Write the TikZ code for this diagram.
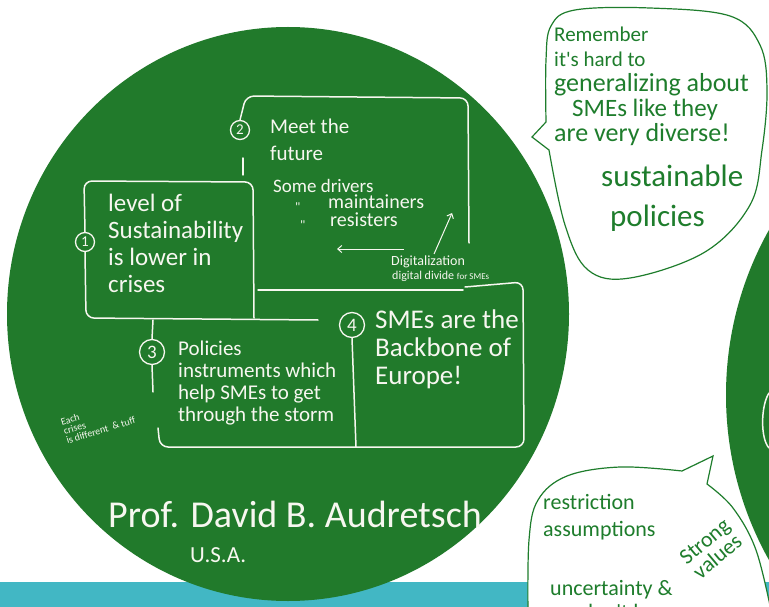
\documentclass[tikz,border=0pt]{standalone}
\usepackage{fontspec}
\newfontfamily\hand{Carlito}
\usetikzlibrary{arrows.meta}
\definecolor{leaf}{HTML}{217A2B}
\definecolor{ink}{HTML}{1E7D2C}
\definecolor{chalk}{HTML}{F7F7F0}
\definecolor{lagoon}{HTML}{42B7C4}
\newcommand{\handsize}[2]{\hand\fontsize{#1}{#2}\selectfont}
\tikzset{
  boxline/.style={draw=chalk,line width=1.5pt,rounded corners=8pt,line cap=round},
  numc/.style={circle,draw=chalk,line width=1.3pt,minimum size=19pt,inner sep=0pt,
    text=chalk,font=\handsize{15}{15}},
  bignumc/.style={numc,minimum size=25pt,font=\handsize{19}{19}},
  wtext/.style={text=chalk,inner sep=0pt,anchor=north west,align=left},
  gtext/.style={text=ink,inner sep=0pt,anchor=north west,align=left},
  bubble/.style={draw=ink,fill=white,line width=1.2pt},
  warrow/.style={-{Straight Barb[length=4pt,width=7pt]},draw=chalk,line width=1pt},
}
\begin{document}
\begin{tikzpicture}[x=1pt,y=-1pt]
  \useasboundingbox (0,0) rectangle (769,607);
  \clip (0,0) rectangle (769,607);
  \fill[white] (0,0) rectangle (769,607);
  \fill[lagoon] (0,582) rectangle (769,607);
  % the neighbouring circle on the right
  \fill[leaf] (1064,395) circle[radius=338pt];
  \draw[boxline] (769,393) .. controls (761,405) and (760,438) .. (769,448);
  % main circle
  \fill[leaf] (288,314) ellipse[x radius=281pt,y radius=287pt];

  \node[numc] (n1) at (85,242) {1}; \node[numc] (n2) at (240,130) {2};
  \node[bignumc] (n3) at (152,352) {3}; \node[bignumc] (n4) at (352,325) {4};
  \draw[boxline] (n1.north) -- (84,181) -- (253,182) -- (254,318);
  \draw[boxline] (n1.south) -- (86,318) -- (318,320);
  \draw[boxline] (n2.north) -- (246,96) -- (468,98) -- (469,243);
  \draw[boxline] (243,158) -- (243,175); \draw[boxline] (258,290) -- (463,290);
  \draw[boxline] (n3.north) -- (153,320); \draw[boxline] (n3.south) -- (153,392);
  \draw[boxline] (158,428) -- (160,447) -- (524,447) -- (523,282) -- (465,287);
  \draw[boxline] (n4.south) -- (356,447);

  \node[wtext,font=\handsize{25}{27}] (lvl) at (108,194)
    {level of\\Sustainability\\is lower in\\crises};
  \node[wtext,font=\handsize{21}{27}] (meet) at (270,119) {Meet the\\future};
  \node[wtext,font=\handsize{19}{19}] (drv) at (273,179) {Some drivers};
  \node[wtext,font=\handsize{20}{19}] (mnt) at (328,195) {maintainers};
  \node[wtext,font=\handsize{20}{19}] (rst) at (330,213) {resisters};
  \node[wtext,font=\handsize{13}{13}] (dit1) at (295,203) {"};
  \node[wtext,font=\handsize{13}{13}] (dit2) at (300,221) {"};
  \node[wtext,font=\handsize{14}{14}] (digi) at (391,256) {Digitalization};
  \node[wtext,font=\handsize{12}{12}] (dgd) at (392,271)
    {digital divide {\fontsize{9}{9}\selectfont for SMEs}};
  \draw[warrow] ([xshift=-24pt,yshift=7pt]digi.north) -- ++(-67,0);
  \draw[warrow] ([xshift=6pt,yshift=2pt]digi.north) -- ++(18,-41);
  \node[wtext,font=\handsize{21}{22}] (pol) at (178,341)
    {Policies\\instruments which\\help SMEs to get\\through the storm};
  \node[wtext,font=\handsize{27}{28}] (sme) at (375,310)
    {SMEs are the\\Backbone of\\Europe!};
  \node[wtext,anchor=center,rotate=17,font=\handsize{10}{9.5}] (each) at (98,421)
    {Each\\crises\\is different \ \& tuff};
  \node[wtext,anchor=base west,font=\handsize{38}{38}] (prof) at (108,527)
    {Prof. David B. Audretsch};
  \node[wtext,anchor=base west,font=\handsize{23}{23}] (usa) at (190,562) {U.S.A.};

  % speech bubbles
  \draw[bubble] plot[smooth,tension=0.6] coordinates {(546,122) (546,60) (551,26)
    (575,10) (650,8) (730,16) (760,45) (767,90) (762,150) (750,205) (705,252)
    (630,278) (588,270) (565,225) (549,150)} -- (532,137) -- cycle;
  \node[gtext,font=\handsize{21}{25}] (rem) at (554,27)
    {Remember\\it's hard to\\{\fontsize{26}{25}\selectfont generalizing about}\\
     \hspace{18pt}{\fontsize{25}{25}\selectfont SMEs like they}\\
     {\fontsize{26}{25}\selectfont are very diverse!}};
  \node[gtext,font=\handsize{31}{40}] (sus) at (601,165) {sustainable\\\hspace{9pt}policies};
  \draw[bubble] plot[smooth,tension=0.6] coordinates {(528,615) (529,540) (538,500)
    (567,476) (620,467) (682,471)} -- (713,456) -- (707,484)
    -- plot[smooth,tension=0.6] coordinates {(707,484) (733,508) (756,550) (772,615)}
    -- cycle;
  \node[gtext,font=\handsize{22}{27}] (res) at (543,494) {restriction\\assumptions};
  \node[gtext,font=\handsize{22}{24}] (unc) at (550,580) {uncertainty \&\\we don't know};
  \node[gtext,anchor=center,align=center,rotate=40,font=\handsize{22}{20}] (strong)
    at (711,549) {Strong\\values};
\end{tikzpicture}
\end{document}
